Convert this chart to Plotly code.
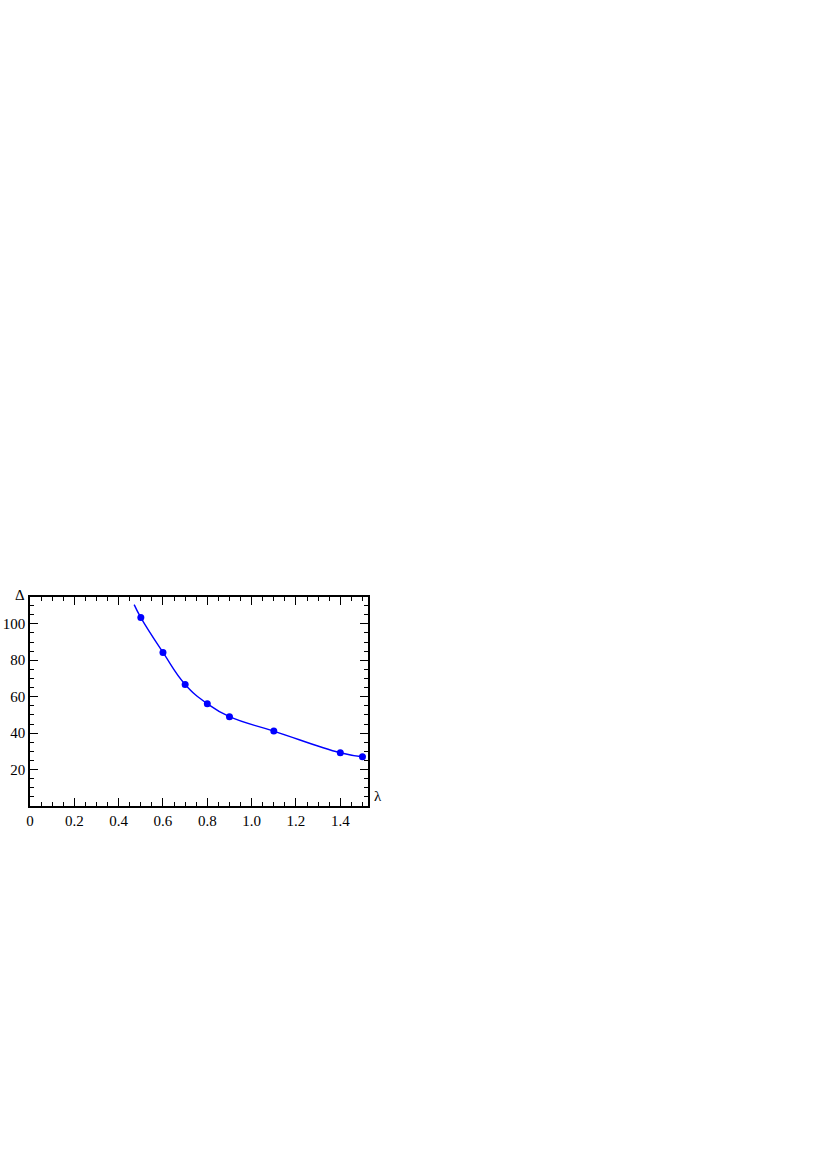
import plotly.graph_objects as go

# measured points
lam = [0.5, 0.6, 0.7, 0.8, 0.9, 1.1, 1.4, 1.5]
delta = [103.4, 84.3, 66.7, 56.1, 49.0, 41.1, 29.2, 27.0]

# the drawn curve starts a little before the first point
curve_lam = [0.47] + lam
curve_delta = [110.5] + delta

x_ticks = [0, 0.2, 0.4, 0.6, 0.8, 1.0, 1.2, 1.4]
x_labels = ["0", "0.2", "0.4", "0.6", "0.8", "1.0", "1.2", "1.4"]
y_ticks = [20, 40, 60, 80, 100]
y_labels = ["20", "40", "60", "80", "100"]

blue = "#0000ff"
font = dict(family="Liberation Serif, Times New Roman, serif", size=15, color="black")

fig = go.Figure()
fig.add_trace(go.Scatter(
    x=curve_lam, y=curve_delta, mode="lines",
    line=dict(color=blue, width=1.4, shape="spline", smoothing=1.3),
    showlegend=False, hoverinfo="skip",
))
fig.add_trace(go.Scatter(
    x=lam, y=delta, mode="markers",
    marker=dict(color=blue, size=7),
    showlegend=False,
))

axis_common = dict(
    showgrid=False, zeroline=False, showline=True, linecolor="black",
    linewidth=1.5, mirror="ticks", ticks="inside", tickcolor="black",
    tickwidth=1, ticklen=8, tickfont=font, automargin=False,
)
fig.update_xaxes(
    range=[0, 1.525], tickvals=x_ticks, ticktext=x_labels,
    minor=dict(dtick=0.05, tick0=0, ticks="inside", ticklen=4, tickcolor="black", tickwidth=1),
    **axis_common,
)
fig.update_yaxes(
    range=[0, 114.7], tickvals=y_ticks, ticktext=y_labels,
    minor=dict(dtick=5, tick0=0, ticks="inside", ticklen=4, tickcolor="black", tickwidth=1),
    **axis_common,
)

fig.add_annotation(text="Δ", xref="paper", yref="paper", x=-0.01, y=1.0,
                   xanchor="right", yanchor="bottom", yshift=-8, showarrow=False, font=font)
fig.add_annotation(text="λ", xref="paper", yref="paper", x=1.0, y=0.0,
                   xanchor="left", yanchor="bottom", xshift=4, showarrow=False, font=font)

fig.update_layout(
    width=830, height=1174,
    margin=dict(l=30, r=462, t=597, b=368, autoexpand=False),
    plot_bgcolor="white", paper_bgcolor="white",
)

# drop the page's default body margin so the figure sits at the window corner
fig.write_html("out.html", config={"displayModeBar": False},
               post_script="document.body.style.margin='0';")
